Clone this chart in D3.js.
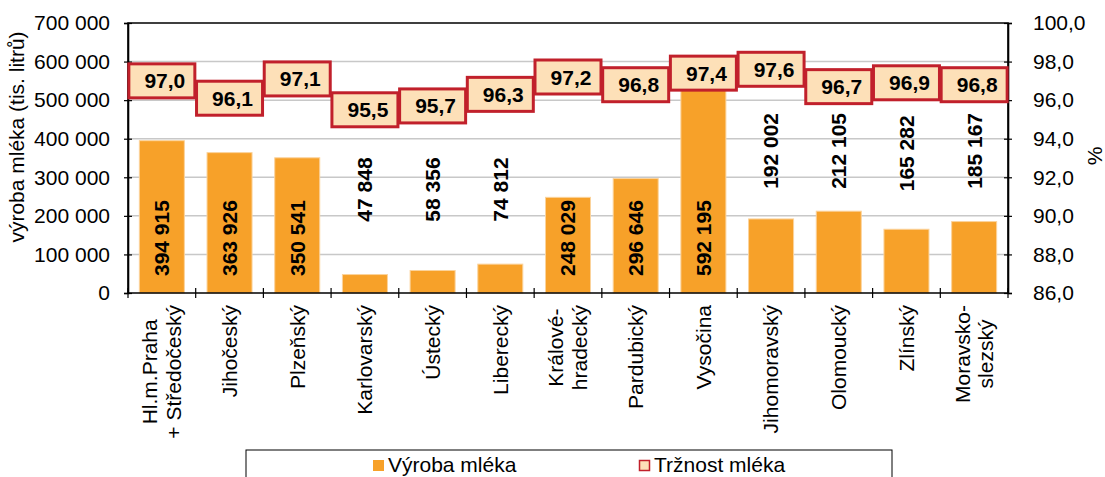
<!DOCTYPE html>
<meta charset="utf-8">
<head>
    <title>Výroba a tržnost mléka</title>
    <style>
        body { margin: 0; background: #fff; }
        svg { display: block; font-family: "Liberation Sans", Arial, sans-serif; }
    </style>
</head>
<script src="https://d3js.org/d3.v7.min.js"></script>
<svg id="chart" width="1105" height="477"></svg>

<script>
    // data
    const regions = ["Hl.m.Praha\n+ Středočeský", "Jihočeský", "Plzeňský", "Karlovarský", "Ústecký",
        "Liberecký", "Králové-\nhradecký", "Pardubický", "Vysočina", "Jihomoravský", "Olomoucký",
        "Zlínský", "Moravsko-\nslezský"]
    const production = [394915, 363926, 350541, 47848, 58356, 74812, 248029, 296646, 592195,
        192002, 212105, 165282, 185167]
    const marketability = [97.0, 96.1, 97.1, 95.5, 95.7, 96.3, 97.2, 96.8, 97.4, 97.6, 96.7, 96.9, 96.8]
    const prodTicks = [0, 100000, 200000, 300000, 400000, 500000, 600000, 700000]
    const pctTicks = [86, 88, 90, 92, 94, 96, 98, 100]
    const seriesNames = ["Výroba mléka", "Tržnost mléka"]

    const orange = "#f7a129",
        peach = "#fde0b8",
        red = "#c1202b"

    const cz = d3.formatLocale({ decimal: ",", thousands: "\u00a0", grouping: [3], currency: ["", ""] })
    const fmtNum = cz.format(",")
    const fmtPct = cz.format(".1f")

    const svg = d3.select("#chart")
    const plotL = 128, plotR = 1008, plotT = 23, plotB = 293

    const x = d3.scaleBand().domain(regions).range([plotL, plotR])
    const y = d3.scaleLinear().domain([0, 700000]).range([plotB, plotT])
    const yPct = d3.scaleLinear().domain([86, 100]).range([plotB, plotT])
    const bw = x.bandwidth()
    const barW = bw * 0.665

    // gridlines
    svg.append("g")
        .selectAll("line")
        .data(prodTicks.slice(1, -1))
        .join("line")
        .attr("x1", plotL).attr("x2", plotR)
        .attr("y1", d => y(d)).attr("y2", d => y(d))
        .attr("stroke", "#c8c8c8")
        .attr("stroke-width", 1.5)

    // bars
    svg.append("g")
        .selectAll("rect")
        .data(production)
        .join("rect")
        .attr("x", (d, i) => x(regions[i]) + (bw - barW) / 2)
        .attr("y", d => y(d))
        .attr("width", barW)
        .attr("height", d => plotB - y(d))
        .attr("fill", orange)
        .attr("stroke", "#fbd39c")
        .attr("stroke-width", 1)

    // frame
    svg.append("path")
        .attr("d", `M${plotL},${plotB}V${plotT}H${plotR}V${plotB}Z`)
        .attr("fill", "none")
        .attr("stroke", "#000")
        .attr("stroke-width", 1.6)

    // left axis
    const gl = svg.append("g")
        .attr("transform", `translate(${plotL},0)`)
        .call(d3.axisLeft(y).tickValues(prodTicks).tickFormat(fmtNum).tickSize(4).tickPadding(14))
    gl.select(".domain").attr("stroke-width", 1.6)
    gl.selectAll(".tick line").attr("x1", 4).attr("stroke-width", 1.2)
    gl.selectAll(".tick text").attr("font-size", 21).attr("font-family", "Liberation Sans, Arial, sans-serif").attr("fill", "#000")

    // right axis
    const gr = svg.append("g")
        .attr("transform", `translate(${plotR},0)`)
        .call(d3.axisRight(yPct).tickValues(pctTicks).tickFormat(fmtPct).tickSize(4).tickPadding(21))
    gr.select(".domain").attr("stroke-width", 1.6)
    gr.selectAll(".tick line").attr("x1", -4).attr("stroke-width", 1.2)
    gr.selectAll(".tick text").attr("font-size", 21).attr("font-family", "Liberation Sans, Arial, sans-serif").attr("fill", "#000")

    // category boundary ticks
    const bounds = regions.map(r => x(r)).concat([plotR])
    svg.append("g")
        .selectAll("line")
        .data(bounds)
        .join("line")
        .attr("x1", d => d).attr("x2", d => d)
        .attr("y1", plotB - 5).attr("y2", plotB + 5)
        .attr("stroke", "#000")
        .attr("stroke-width", 1.2)

    // category labels (rotated, top aligned, lines centered)
    const catG = svg.append("g")
        .selectAll("g")
        .data(regions)
        .join("g")
        .attr("transform", d => `translate(${x(d) + bw / 2},${plotB + 12}) rotate(-90)`)
    catG.each(function(d) {
        const lines = d.split("\n")
        const g = d3.select(this)
        const t = g.append("text")
            .attr("font-size", 21)
            .attr("fill", "#000")
            .attr("text-anchor", "middle")
        lines.forEach((l, i) => {
            t.append("tspan")
                .attr("x", 0)
                .attr("y", (i - (lines.length - 1) / 2) * 24)
                .attr("dy", "0.35em")
                .text(l)
        })
        const len = d3.max(t.selectAll("tspan").nodes(), n => n.getComputedTextLength())
        t.attr("transform", `translate(${-len / 2},0)`)
    })

    // bar value labels: inside at the base when the bar is tall enough, otherwise above
    svg.append("g")
        .selectAll("text")
        .data(production)
        .join("text")
        .attr("font-size", 21)
        .attr("font-weight", "bold")
        .attr("fill", "#000")
        .attr("transform", function(d, i) {
            const cx = x(regions[i]) + bw / 2
            const inside = plotB - y(d) > 92
            const yy = inside ? plotB - 17 : Math.max(y(270000), Math.min(y(185000), y(d) - 38))
            return `translate(${cx},${yy}) rotate(-90)`
        })
        .attr("dy", "0.35em")
        .text(d => fmtNum(d))

    // marketability boxes
    const boxW = 66, boxH = 34
    const boxes = svg.append("g")
        .selectAll("g")
        .data(marketability)
        .join("g")
        .attr("transform", (d, i) => `translate(${x(regions[i]) + bw / 2},${yPct(d)})`)
    boxes.append("rect")
        .attr("x", -boxW / 2).attr("y", -boxH / 2)
        .attr("width", boxW).attr("height", boxH)
        .attr("fill", peach)
        .attr("stroke", red)
        .attr("stroke-width", 3)
    boxes.append("text")
        .attr("x", 3)
        .attr("dy", "0.36em")
        .attr("text-anchor", "middle")
        .attr("font-size", 21)
        .attr("font-weight", "bold")
        .attr("fill", "#000")
        .text(d => fmtPct(d))

    // axis titles
    svg.append("text")
        .attr("transform", "translate(17,137) rotate(-90)")
        .attr("text-anchor", "middle")
        .attr("dy", "0.35em")
        .attr("font-size", 21)
        .text("výroba mléka (tis. litrů)")
    svg.append("text")
        .attr("transform", "translate(1095,156) rotate(-90)")
        .attr("text-anchor", "middle")
        .attr("dy", "0.35em")
        .attr("font-size", 21)
        .text("%")

    // legend
    svg.append("rect")
        .attr("x", 246).attr("y", 450)
        .attr("width", 646).attr("height", 45)
        .attr("fill", "#fff")
        .attr("stroke", "#000")
        .attr("stroke-width", 1)
    const legX = [373, 639]
    svg.append("rect")
        .attr("x", legX[0]).attr("y", 460).attr("width", 11).attr("height", 11)
        .attr("fill", orange)
    svg.append("rect")
        .attr("x", legX[1] + 0.5).attr("y", 460.5).attr("width", 10).attr("height", 10)
        .attr("fill", peach)
        .attr("stroke", red)
        .attr("stroke-width", 1.5)
    svg.selectAll(".leg")
        .data(seriesNames)
        .join("text")
        .attr("class", "leg")
        .attr("x", (d, i) => legX[i] + 15)
        .attr("y", 472)
        .attr("font-size", 21)
        .attr("fill", "#000")
        .text(d => d)
</script>
